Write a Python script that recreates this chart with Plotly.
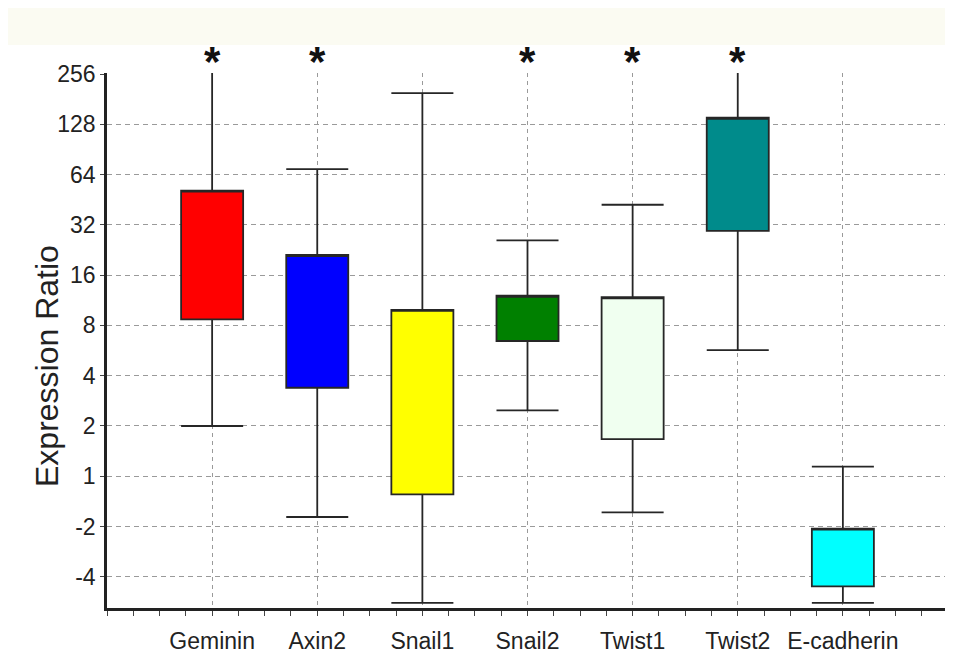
import plotly.graph_objects as go

categories = ["Geminin", "Axin2", "Snail1", "Snail2", "Twist1", "Twist2", "E-cadherin"]
# values in log2 units of expression ratio
upper_whisker = [8.5, 6.11, 7.62, 4.69, 5.40, 8.5, 0.19]
q3_values = [5.68, 4.40, 3.31, 3.59, 3.56, 7.13, -1.04]
q1_values = [3.12, 1.76, -0.36, 2.69, 0.74, 4.88, -2.19]
lower_whisker = [1.0, -0.81, -2.52, 1.31, -0.72, 2.51, -2.52]
box_colors = ["#FF0000", "#0000FF", "#FFFF00", "#008000", "#F0FFF0", "#008B8B", "#00FFFF"]
significant = [True, True, False, True, True, True, False]

tick_vals = [-2, -1, 0, 1, 2, 3, 4, 5, 6, 7, 8]
tick_text = ["-4", "-2", "1", "2", "4", "8", "16", "32", "64", "128", "256"]

OFF = 8  # page body margin
W, H = 945, 652
PL, PR, PT, PB = 107, 948, 73, 608  # plot area in page pixels
L, T = PL - OFF, PT - OFF
R = W + OFF - PR
B = H + OFF - PB
PW, PH = PR - PL, PB - PT
YMIN, YMAX = -2.62, 8.02


def px_x(x):
    return (x - PL) / PW


def px_y(y):
    return (PB - y) / PH


fig = go.Figure()
for i, name in enumerate(categories):
    fig.add_trace(go.Box(
        x=[i], q1=[q1_values[i]], median=[q3_values[i]], q3=[q3_values[i]],
        lowerfence=[lower_whisker[i]], upperfence=[upper_whisker[i]],
        name=name, width=0.59, whiskerwidth=1,
        fillcolor=box_colors[i],
        line=dict(color="#262626", width=1.8),
        boxpoints=False, showlegend=False,
    ))

# dummy trace for grid-only overlay axis
fig.add_trace(go.Scatter(x=[None], y=[None], yaxis="y2", showlegend=False, hoverinfo="skip"))

for i, sig in enumerate(significant):
    if sig:
        fig.add_annotation(x=i, xref="x", y=px_y(62), yref="paper", text="<b>*</b>",
                           showarrow=False, font=dict(size=42, color="#111", family="Arial"),
                           yanchor="middle")

fig.add_annotation(x=px_x(47), xref="paper", y=px_y(366), yref="paper",
                   text="Expression Ratio", textangle=-90, showarrow=False,
                   font=dict(size=32, color="#222", family="Arial"), xanchor="center", yanchor="middle")

fig.add_shape(type="rect", xref="paper", yref="paper",
              x0=px_x(5), x1=px_x(960), y0=px_y(45), y1=px_y(8),
              fillcolor="#FBFBF2", line=dict(width=0), layer="below")

fig.update_layout(
    width=W, height=H,
    margin=dict(l=L, r=R, t=T, b=B, autoexpand=False),
    paper_bgcolor="white", plot_bgcolor="white",
    font=dict(family="Arial", color="#222"),
    xaxis=dict(
        range=[-1, 7], tickmode="array", tickvals=list(range(len(categories))), ticktext=categories,
        showline=True, linecolor="#222", linewidth=2.5,
        ticks="outside", ticklen=5, tickcolor="#444", tickwidth=1,
        minor=dict(dtick=0.25, tick0=0, ticks="outside", ticklen=5, tickcolor="#444", tickwidth=1),
        showgrid=True, gridcolor="#9a9a9a", gridwidth=1, griddash="4px,4px",
        tickfont=dict(size=23, color="#222"), zeroline=False, ticklabelstandoff=6,
    ),
    yaxis=dict(
        range=[YMIN, YMAX], tickmode="array", tickvals=tick_vals, ticktext=tick_text,
        showline=True, linecolor="#222", linewidth=2.5,
        ticks="outside", ticklen=4, tickcolor="#444",
        showgrid=False, zeroline=False,
        tickfont=dict(size=23, color="#222"),
    ),
    yaxis2=dict(
        range=[YMIN, YMAX], overlaying="y", side="left", tickmode="array", tickvals=tick_vals[:-1],
        showticklabels=False, ticks="", showline=False, zeroline=False,
        showgrid=True, gridcolor="#9a9a9a", gridwidth=1, griddash="5px,4px",
    ),
)

fig.write_html("out.html")
